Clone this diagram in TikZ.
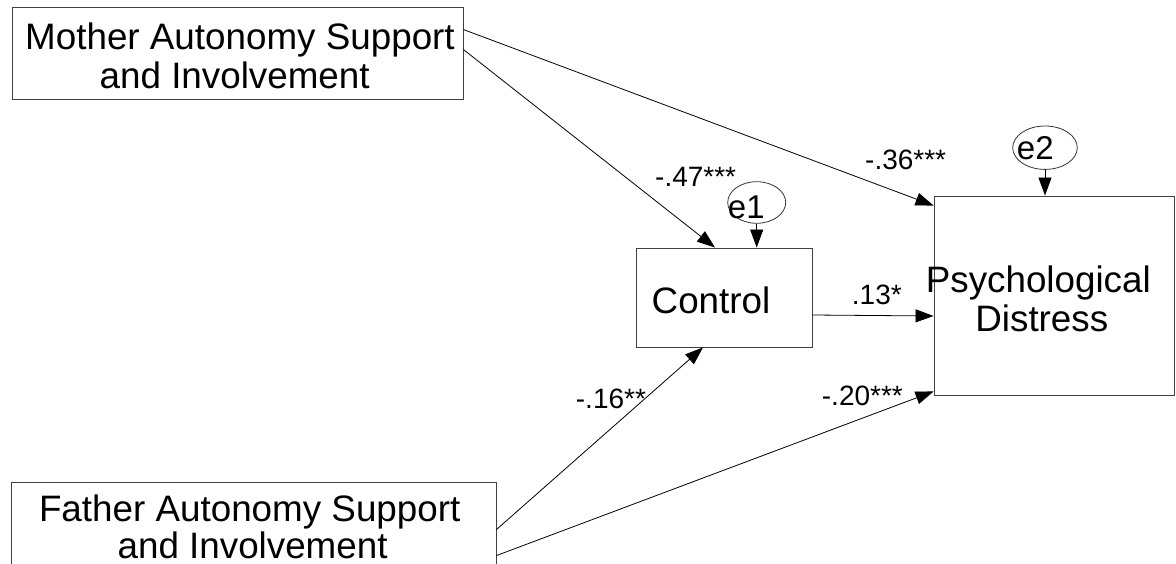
\documentclass[tikz,border=0pt]{standalone}
\usepackage{fontspec}
\setmainfont{Liberation Sans}
\usetikzlibrary{arrows.meta,shapes.geometric,calc}
\begin{document}
\begin{tikzpicture}[x=1pt,y=-1pt,
  box/.style={rectangle,draw=black!75,line width=0.9pt,inner sep=0pt},
  errc/.style={ellipse,draw=black!80,line width=0.8pt,inner sep=0pt},
  effect/.style={draw=black,line width=0.8pt,-{Triangle[length=18pt,width=13pt]}},
  big/.style={font=\fontsize{36.8}{40}\selectfont,inner sep=0pt,anchor=base},
  coef/.style={font=\fontsize{28}{32}\selectfont,inner sep=0pt,anchor=base west},
  errl/.style={font=\fontsize{33}{36}\selectfont,inner sep=0pt,anchor=base west}]
\path[use as bounding box, clip] (0,0) rectangle (1176,564);
\fill[white] (0,0) rectangle (1176,564);

% observed variables
\node[box,minimum width=451pt,minimum height=92pt] (mother) at (237.5,53) {};
\node[box,minimum width=485pt,minimum height=92pt] (father) at (253.5,528) {};
\node[box,minimum width=176pt,minimum height=99pt] (ctrl) at (724,297.5) {};
\node[box,minimum width=240pt,minimum height=199pt] (pd) at (1054,295.5) {};

% error terms
\node[errc,minimum width=58pt,minimum height=41.6pt] (e1) at (756.7,202.5) {};
\node[errc,minimum width=64.6pt,minimum height=43.4pt] (e2) at (1045,147.7) {};

% variable labels
\node[big] (mt1) at (240,50) {Mother Autonomy Support};
\node[big] (mt2) at (234.7,88.3) {and Involvement};
\node[big] (ft1) at (249.7,521.7) {Father Autonomy Support};
\node[big] (ft2) at (252.6,558.3) {and Involvement};
\node[big] (ct) at (711,313.3) {Control};
\node[big] (pt1) at (1038.3,292.3) {Psychological};
\node[big] (pt2) at (1041.8,331) {Distress};
\node[errl] (e1t) at (727.7,218.3) {e1};
\node[errl] (e2t) at (1016.7,160) {e2};

% paths
\draw[effect] ([yshift=-23pt]mother.north east) -- ([yshift=-10pt]pd.north west);
\draw[effect] ([yshift=-43pt]mother.north east) -- ([xshift=-9pt]ctrl.north);
\draw[effect] ([yshift=-48pt]father.north east) -- ([xshift=-21pt]ctrl.south);
\draw[effect] ([yshift=-74pt]father.north east) -- ([yshift=4pt]pd.south west);
\draw[effect] ([yshift=-17.5pt]ctrl.east) -- ([yshift=-20.5pt]pd.west);
\draw[effect] (e1.south) -- (e1.south |- ctrl.north);
\draw[effect] (e2.south) -- (e2.south |- pd.north);

% path coefficients
\node[coef] (c47) at (655,186.7) {-.47***};
\node[coef] (c36) at (865,169.3) {-.36***};
\node[coef] (c13) at (851.7,305) {.13*};
\node[coef] (c20) at (821.7,405) {-.20***};
\node[coef] (c16) at (575.7,408.3) {-.16**};
\end{tikzpicture}
\end{document}
